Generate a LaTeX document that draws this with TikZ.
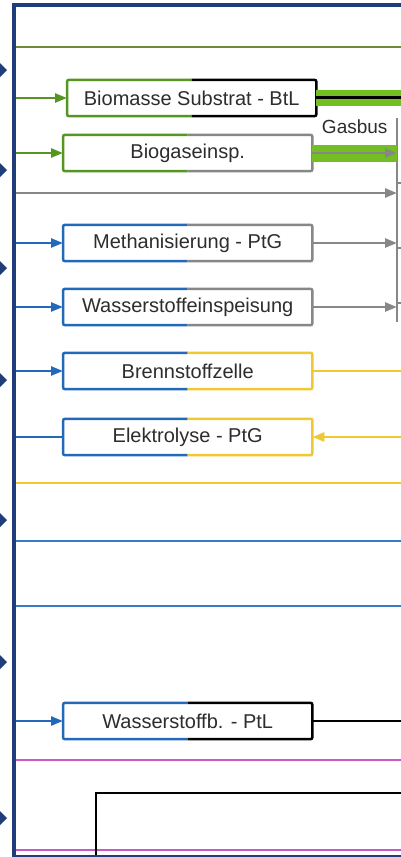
\documentclass[tikz,border=0pt]{standalone}
\usepackage{fontspec}
\setmainfont{Liberation Sans}
\usepackage{xcolor}
\usetikzlibrary{arrows.meta}

\definecolor{navy}{RGB}{31,61,122}
\definecolor{olive}{RGB}{110,140,55}
\definecolor{grnbox}{RGB}{85,150,35}
\definecolor{lime}{RGB}{115,190,35}
\definecolor{grayl}{RGB}{135,135,135}
\definecolor{blu}{RGB}{35,105,185}
\definecolor{lblue}{RGB}{55,125,195}
\definecolor{yel}{RGB}{240,200,50}
\definecolor{mag}{RGB}{200,90,200}
\definecolor{txt}{RGB}{45,45,45}

\begin{document}
\begin{tikzpicture}[x=1pt,y=-1pt,
    box/.style={minimum width=249pt,minimum height=36pt,inner sep=0pt,
        text=txt,font=\fontsize{20}{24}\selectfont},
    edge/.style={line width=2.5pt,rounded corners=2pt},
    flow/.style={line width=2.5pt},
    tip/.style={-{Triangle[length=12pt,width=9pt]}}]

    \useasboundingbox (0,0) rectangle (401,857);
    \fill[white] (0,0) rectangle (401,857);
    \clip (0,0) rectangle (401,857);

    % frame edges
    \coordinate (fl) at (15,0);
    \coordinate (fr) at (405,0);
    \coordinate (gbtop) at (397,118);
    \coordinate (gbbot) at (397,322);

    % boxes, two colours each
    \foreach \nm/\xx/\yy/\txt/\lc/\rc in {
        btl/67/98/{Biomasse Substrat - BtL}/grnbox/black,
        bio/63/153/{Biogaseinsp.}/grnbox/grayl,
        meth/63/243/{Methanisierung - PtG}/blu/grayl,
        h2in/63/307/{Wasserstoffeinspeisung}/blu/grayl,
        fc/63/371/{Brennstoffzelle}/blu/yel,
        ely/63/437/{Elektrolyse - PtG}/blu/yel,
        ptl/63/721/{Wasserstoffb. - PtL}/blu/black}
    {
        \node[box, anchor=west] (\nm) at (\xx,\yy) {\txt};
        \draw[edge,\lc] (\nm.north) -- (\nm.north west) -- (\nm.south west) -- (\nm.south);
        \draw[edge,\rc] (\nm.north) -- (\nm.north east) -- (\nm.south east) -- (\nm.south);
    }

    % long lines
    \foreach \yy/\cc in {47/olive, 483/yel, 541/lblue, 606/lblue, 760/mag, 850/mag}
        \draw[flow,\cc] (15,\yy) -- (405,\yy);
    \draw[flow,black] (96,860) -- (96,793) -- (405,793);

    % inputs
    \draw[flow,grnbox,tip] (fl |- btl.west) -- (btl.west);
    \draw[flow,grnbox,tip] (fl |- bio.west) -- (bio.west);
    \foreach \nm in {meth,h2in,fc,ptl}
        \draw[flow,blu,tip] (fl |- \nm.west) -- (\nm.west);
    \draw[flow,blu] (fl |- ely.west) -- (ely.west);

    % gas bus
    \draw[grayl,line width=2pt] (gbtop) -- (gbbot);
    \node[anchor=east,text=txt,font=\fontsize{19}{22}\selectfont] (gblabel) at (391,127) {Gasbus};
    \foreach \yy in {183,248,303}
        \draw[grayl,line width=1.5pt] (397,\yy) -- (405,\yy);
    \draw[lime,line width=16pt] (btl.east) -- (btl.east -| fr);
    \draw[black,line width=3pt] ([yshift=1pt]btl.east) -- ([yshift=1pt]btl.east -| fr);
    \draw[lime,line width=17pt] (bio.east) -- (bio.east -| gbtop);
    \draw[flow,grayl,tip] (bio.east) -- (bio.east -| gbtop);
    \coordinate (gasin) at (15,193);
    \draw[flow,grayl,tip] (gasin) -- (gasin -| gbtop);
    \draw[flow,grayl,tip] (meth.east) -- (meth.east -| gbtop);
    \draw[flow,grayl,tip] (h2in.east) -- (h2in.east -| gbtop);

    % outputs
    \draw[flow,yel] (fc.east) -- (fc.east -| fr);
    \draw[flow,yel,tip] (ely.east -| fr) -- (ely.east);
    \draw[flow,black] (ptl.east) -- (ptl.east -| fr);

    % frame and markers
    \draw[navy,line width=4pt] (13.5,860) -- (13.5,5) -- (410,5);
    \draw[navy,line width=2pt] (13.5,856) -- (410,856);
    \foreach \yy in {70,170,268,380,520,662,818}
        \fill[navy] (0,\yy-7) -- (7,\yy) -- (0,\yy+7) -- cycle;
\end{tikzpicture}
\end{document}
